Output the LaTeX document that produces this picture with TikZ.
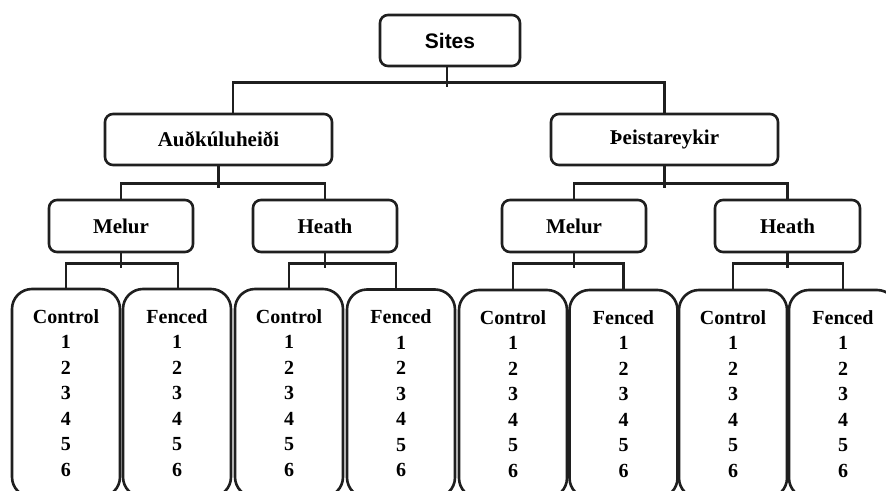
\documentclass[tikz,border=0pt]{standalone}
\usepackage{fontspec}
\setmainfont{Liberation Serif}
\newfontfamily\arialf{Liberation Sans}
\tikzset{
  x=1pt, y=-1pt,
  line/.style={line width=2.6pt, draw=black!88, line cap=rect},
  midbox/.style={draw=black!88, line width=2.6pt, rounded corners=8pt, fill=white,
    minimum height=51pt, inner sep=0pt, font=\fontsize{21}{25}\selectfont\bfseries},
  leafbox/.style={draw=black!88, line width=2.6pt, rounded corners=20pt, fill=white,
    minimum height=208pt, minimum width=108pt, inner sep=0pt, align=center,
    font=\fontsize{20}{25.5}\selectfont\bfseries},
}
\begin{document}
\begin{tikzpicture}
\useasboundingbox (0,0) rectangle (886,490);
\clip (0,0) rectangle (886,490);
% connectors first
\coordinate (sitesdrop) at (447,66);
% nodes
\node[midbox, minimum width=140pt, font=\fontsize{21}{25}\selectfont\arialf\bfseries] (sites) at (450,40.5) {Sites};
\node[midbox, minimum width=227pt] (auth) at (218.5,139.5) {Auðkúluheiði};
\node[midbox, minimum width=227pt] (th) at (664.5,139.5) {Þeistareykir};
\node[midbox, minimum width=144pt, minimum height=52pt] (melA) at (121,226) {Melur};
\node[midbox, minimum width=144pt, minimum height=52pt] (heaA) at (325,226) {Heath};
\node[midbox, minimum width=144pt, minimum height=52pt] (melT) at (574,226) {Melur};
\node[midbox, minimum width=145pt, minimum height=52pt] (heaT) at (787.5,226) {Heath};
% leaves
\node[leafbox] (cAM) at (66,393) {Control\\1\\2\\3\\4\\5\\6};
\node[leafbox] (fAM) at (177,393) {Fenced\\1\\2\\3\\4\\5\\6};
\node[leafbox] (cAH) at (289,393) {Control\\1\\2\\3\\4\\5\\6};
\node[leafbox] (fAH) at (401,393.5) {Fenced\\1\\2\\3\\4\\5\\6};
\node[leafbox] (cTM) at (513,394) {Control\\1\\2\\3\\4\\5\\6};
\node[leafbox] (fTM) at (623.5,394) {Fenced\\1\\2\\3\\4\\5\\6};
\node[leafbox] (cTH) at (733,394) {Control\\1\\2\\3\\4\\5\\6};
\node[leafbox] (fTH) at (843,394) {Fenced\\1\\2\\3\\4\\5\\6};
% connectors
\draw[line] ([xshift=-3pt]sites.south) -- ++(0,18);
\draw[line] ([xshift=14.5pt]auth.north) -- ++(0,-30) -| (th.north);
\draw[line] (auth.south) -- ++(0,20);
\draw[line] (melA.north) -- ++(0,-15) -| (heaA.north);
\draw[line] (th.south) -- ++(0,20);
\draw[line] (melT.north) -- ++(0,-15) -| (heaT.north);
\draw[line] (melA.south) -- ++(0,13);
\draw[line] (cAM.north) -- ++(0,-24) -| ([xshift=1pt]fAM.north);
\draw[line] (heaA.south) -- ++(0,13);
\draw[line] (cAH.north) -- ++(0,-24) -| ([xshift=-5pt]fAH.north);
\draw[line] (melT.south) -- ++(0,13);
\draw[line] (cTM.north) -- ++(0,-25) -| (fTM.north);
\draw[line] (heaT.south) -- ++(0,13);
\draw[line] (cTH.north) -- ++(0,-25) -| (fTH.north);
\end{tikzpicture}
\end{document}
